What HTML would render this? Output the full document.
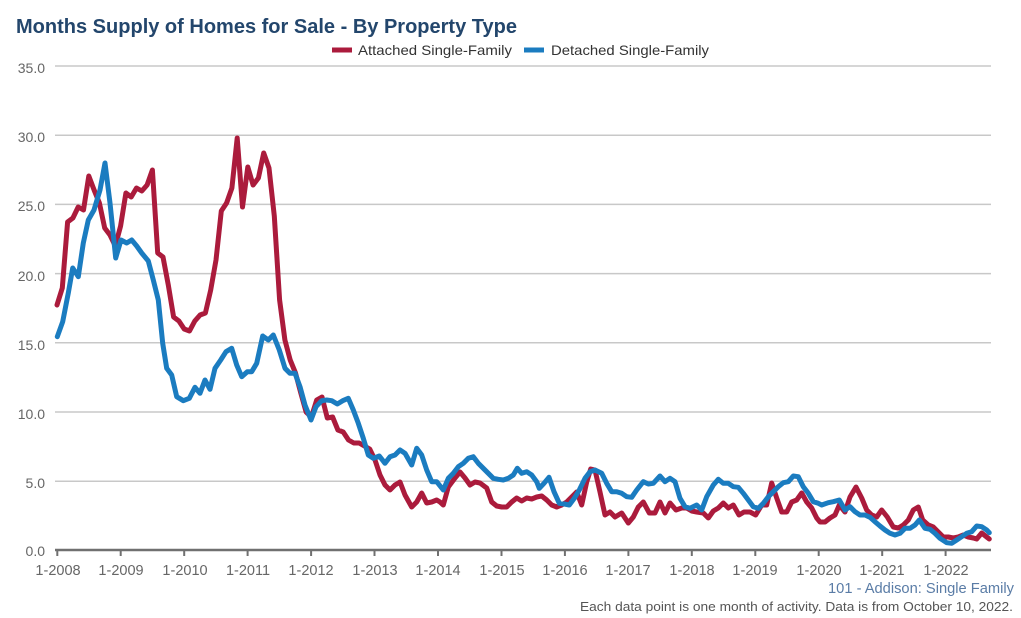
<!DOCTYPE html>
<html><head><meta charset="utf-8"><style>
html,body{margin:0;padding:0;background:#fff;}
svg{display:block;}
text{font-family:"Liberation Sans",Arial,sans-serif;}
</style></head><body>
<svg width="1021" height="618" viewBox="0 0 1021 618" xmlns="http://www.w3.org/2000/svg">
<rect width="1021" height="618" fill="#fff"/>
<text x="16" y="33" font-size="20" font-weight="bold" fill="#23466c" textLength="501" lengthAdjust="spacingAndGlyphs">Months Supply of Homes for Sale - By Property Type</text>
<!-- legend -->
<line x1="332" y1="50" x2="352" y2="50" stroke="#ab1b3c" stroke-width="5"/>
<text x="358" y="55" font-size="14" fill="#333" textLength="154" lengthAdjust="spacingAndGlyphs">Attached Single-Family</text>
<line x1="524" y1="50" x2="544" y2="50" stroke="#1b7cc0" stroke-width="5"/>
<text x="551" y="55" font-size="14" fill="#333" textLength="158" lengthAdjust="spacingAndGlyphs">Detached Single-Family</text>
<!-- grid -->
<g stroke="#c8c8c8" stroke-width="1.5">
<line x1="55" y1="66" x2="991" y2="66"/>
<line x1="55" y1="135.2" x2="991" y2="135.2"/>
<line x1="55" y1="204.4" x2="991" y2="204.4"/>
<line x1="55" y1="273.6" x2="991" y2="273.6"/>
<line x1="55" y1="342.8" x2="991" y2="342.8"/>
<line x1="55" y1="412" x2="991" y2="412"/>
<line x1="55" y1="481.2" x2="991" y2="481.2"/>
</g>
<g font-size="14" fill="#666" text-anchor="end">
<text x="45" y="73">35.0</text>
<text x="45" y="142">30.0</text>
<text x="45" y="211">25.0</text>
<text x="45" y="281">20.0</text>
<text x="45" y="350">15.0</text>
<text x="45" y="419">10.0</text>
<text x="45" y="488">5.0</text>
<text x="45" y="556">0.0</text>
</g>
<!-- axis -->
<line x1="55" y1="550" x2="991" y2="550" stroke="#707070" stroke-width="2.5"/>
<g stroke="#707070" stroke-width="2">
<line x1="57.3" y1="550" x2="57.3" y2="556"/>
<line x1="120.7" y1="550" x2="120.7" y2="556"/>
<line x1="184.2" y1="550" x2="184.2" y2="556"/>
<line x1="247.6" y1="550" x2="247.6" y2="556"/>
<line x1="311.1" y1="550" x2="311.1" y2="556"/>
<line x1="374.5" y1="550" x2="374.5" y2="556"/>
<line x1="438" y1="550" x2="438" y2="556"/>
<line x1="501.5" y1="550" x2="501.5" y2="556"/>
<line x1="564.9" y1="550" x2="564.9" y2="556"/>
<line x1="628.4" y1="550" x2="628.4" y2="556"/>
<line x1="691.8" y1="550" x2="691.8" y2="556"/>
<line x1="755.3" y1="550" x2="755.3" y2="556"/>
<line x1="818.7" y1="550" x2="818.7" y2="556"/>
<line x1="882.2" y1="550" x2="882.2" y2="556"/>
<line x1="945.6" y1="550" x2="945.6" y2="556"/>
</g>
<g font-size="14.5" fill="#666" text-anchor="middle">
<text x="58" y="575">1-2008</text>
<text x="121" y="575">1-2009</text>
<text x="185" y="575">1-2010</text>
<text x="248" y="575">1-2011</text>
<text x="311" y="575">1-2012</text>
<text x="375" y="575">1-2013</text>
<text x="438" y="575">1-2014</text>
<text x="502" y="575">1-2015</text>
<text x="565" y="575">1-2016</text>
<text x="628" y="575">1-2017</text>
<text x="692" y="575">1-2018</text>
<text x="755" y="575">1-2019</text>
<text x="819" y="575">1-2020</text>
<text x="882" y="575">1-2021</text>
<text x="946" y="575">1-2022</text>
</g>
<!-- series -->
<polyline fill="none" stroke="#ab1b3c" stroke-width="5" stroke-linejoin="round" stroke-linecap="round" points="57,305 62.3,288 67.6,222 72.9,218 78.2,207 83.5,210 88.8,176 94.1,190 99.4,203 104.7,228 110,235 115.3,246 120.6,226 125.9,193 131.2,197 136.5,188 141.8,191 147.1,185 152.4,170 157.7,253 163,257 168.3,285 173.6,317 178.9,321 184.2,329 189.5,331 194.8,321 200.1,315 205.4,313 210.7,290 216,260 221.3,211 226.6,203 231.9,188 237.2,138 242.5,207 247.8,167 253.1,185 258.4,178 263.7,153 269,168 274.3,216 279.6,300 284.9,340 290.2,360 295.5,373 300.8,393 306.1,412 311.4,417 316.7,400 322,397 327.3,418 332.6,417 337.9,430 343.2,432 348.5,440 353.8,443 359.1,443 364.4,446 369.7,449 375,460 380,475 385,485 390,490 395,485 400,482 405,495 411.7,507 416.7,502 421.7,493 426.7,503 431.7,502 436.7,500 440,502 443.3,505 448.3,487 455,478 460,472 465,478 470,485 475,482 480,483 486.7,488 491.7,502 496.7,506 501.7,507 506.7,507 511.7,502 516.7,498 521.7,501 526.7,498 531.7,499 536.7,497 541.7,496 546.7,500 551.7,505 556.7,507 561.7,505 566.7,502 571.7,497 576.7,492 581.7,505 586.7,482 590.7,469 595,470 600,492 605,515 610,512 615,517 621.7,513 628.3,523 633.3,517 638.3,507 643.3,502 649.3,513 655,513 660,502 665,513 670,503 676,510 681.7,508 686.7,508 691.7,511 696.7,512 703.3,513 708.3,518 713.3,511 718.3,508 723.3,503 728.3,508 733.3,505 739,515 744,512 750,512 755.7,515 761.7,505 766.7,505 771.7,483 776.7,498 781.7,512 786.7,512 791.7,502 796.7,500 801.7,493 806.7,502 811.7,508 816.7,518 820,522 825,522 830,518 835,515 839.3,505 845,512 850,497 856,487 861.7,498 866.7,510 871.7,515 876.7,517 881.7,510 887.3,517 893.3,527 898.3,528 903.3,525 908.3,520 913.3,510 918.3,507 922.7,520 928.3,525 933.3,527 938.3,532 943.3,537 948.3,537 953.3,538 958.3,537 963.3,535 968.3,537 973.3,538 976.7,539 981.7,533 986.7,537 989.3,539"/>
<polyline fill="none" stroke="#1b7cc0" stroke-width="5" stroke-linejoin="round" stroke-linecap="round" points="57.3,336.7 62.7,321.7 68.3,293 72.7,268 78.3,276.7 83.3,243 88.3,220 94,210 100,190 105,163 110,203 115.7,258 121,240 126.7,243 131.7,240 136.7,246 141.7,253 148.3,261 153.3,280 158.3,300 162.7,343.3 166.7,368.3 171.7,375 176.7,396.7 183.3,400.7 189.3,398.3 195,387.3 200,393.3 205,380 210,389.3 215,368.3 220.7,360 226,351.7 231.7,348.3 236.7,365 241.7,376.7 247.3,371.7 251.7,371.7 256.7,363.3 262.7,336 268.3,340 273.3,335 279.3,350 285,368.3 290,373.3 295,373.3 300,386.7 305,405 311,420 316,406.7 321.7,400.7 326.7,400 331.7,400.7 337.3,404 342.7,400.7 348.3,398.3 353.3,410 358.3,423.3 363.3,438.3 368.3,455 373.3,458.3 379.3,456 385,463.3 390,456.7 395,455 400,450 405,453.3 411.7,465 416.7,448.3 421.7,455 426.7,470 431.7,481.7 436.7,481.7 443.3,490 448.3,478.3 453.3,473.3 458.3,466.7 463.3,463.3 468.3,458.3 473.3,456.7 478.3,463.3 483.3,468.3 488.3,473.3 493.3,478.3 498.3,479.3 503.3,480 508.3,478.3 513.3,475 517.3,468.3 521.7,473.3 526.7,471.7 531.7,475 536.7,481.7 539.3,488.3 544,483.3 549,477.3 554,491.7 559.3,503.3 564.3,504 569.3,505 574.3,498.3 579.3,490 585,478.3 590,471.7 595,470 601.7,473.3 606.7,483.3 611.7,491.7 616.7,491.7 621.7,493.3 626.7,496.7 631.7,497.3 636.7,490 643.3,481.7 648.3,484 653.3,483.3 660,476 665,481.7 670,478.3 675,481.7 680,498.3 685,506.7 690,508.3 696.7,505 701.7,510 706.7,496.7 713.3,485 718.3,479.3 723.3,483.3 728.3,483.3 733.3,486.7 738.3,487.3 743.3,493.3 748.3,500 753.3,506.7 758.3,508.3 763.3,503.3 768.3,496.7 773.3,491.7 778.3,486.7 783.3,482.7 788.3,481.7 793.3,476 798.3,476.7 803.3,486.7 808.3,493.3 813.3,501.7 818.3,503.3 821.7,505 828.3,502.7 833.3,501.7 839.3,500 845,510 850,506.7 855,511.7 860,515 865,515 870,517.3 875,521.7 880,526 885,530 890,533.3 895,535 900,533.3 905,528.3 910,528.3 915,525 919.3,520 925,528.3 930,529.3 935,533.3 940,538.3 946.7,542.7 951.7,543.3 956.7,540 961.7,536.7 966.7,533.3 971.7,531.7 976.7,526 981.7,526.7 986.7,530 989.3,532.7"/>
<!-- footer -->
<text x="1014" y="593" font-size="14.5" fill="#5a7ca6" text-anchor="end" textLength="186" lengthAdjust="spacingAndGlyphs">101 - Addison: Single Family</text>
<text x="1013" y="611" font-size="13" fill="#555" text-anchor="end" textLength="433" lengthAdjust="spacingAndGlyphs">Each data point is one month of activity. Data is from October 10, 2022.</text>
</svg>
</body></html>
